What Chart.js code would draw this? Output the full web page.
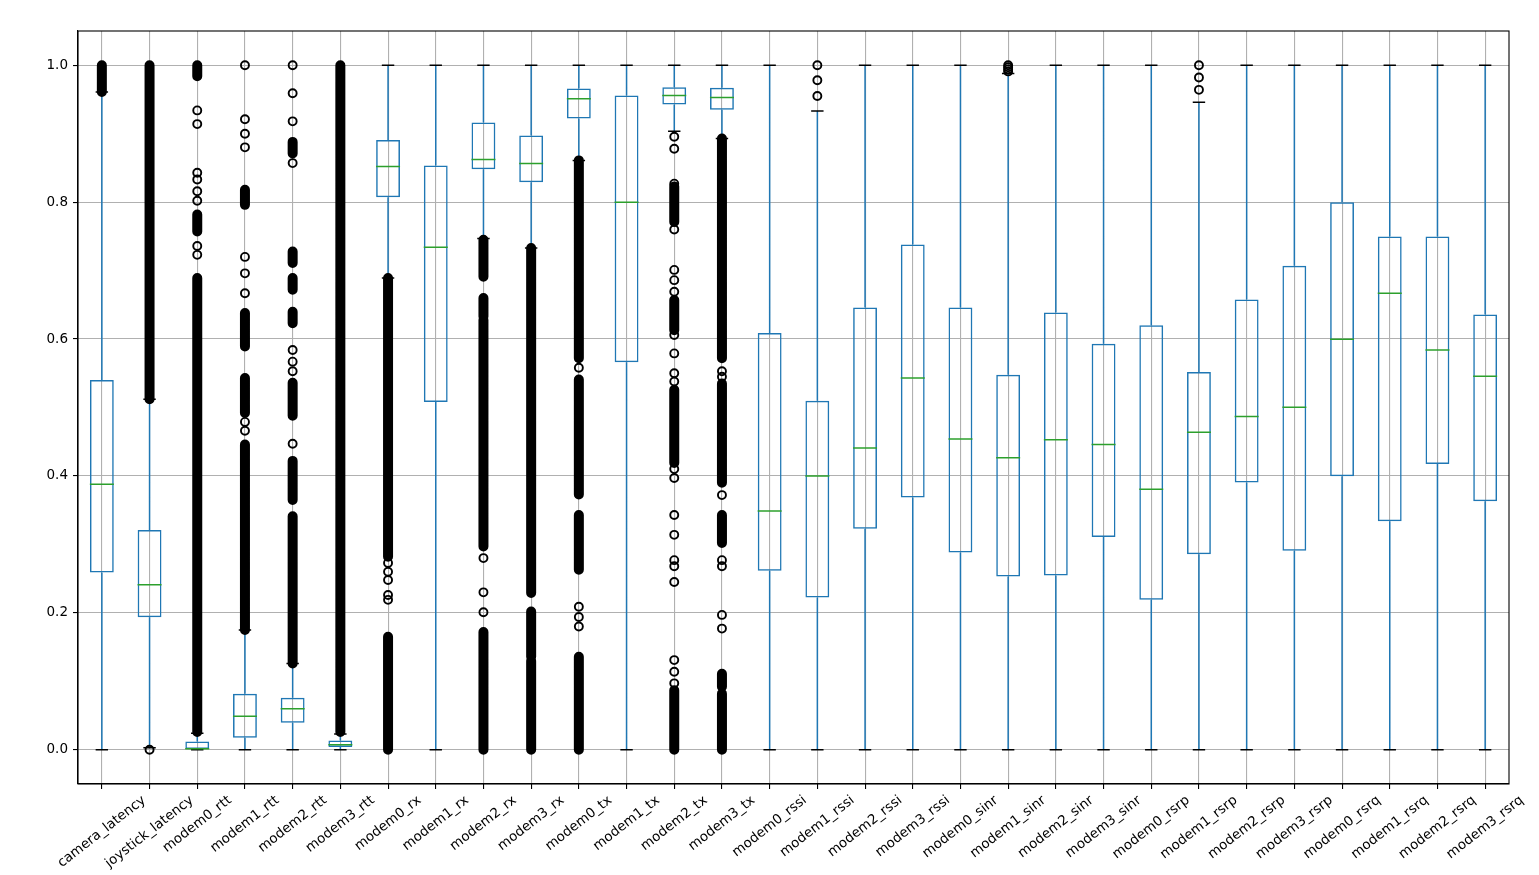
<!DOCTYPE html>
<html>
<head>
<meta charset="utf-8">
<script src="https://cdn.jsdelivr.net/npm/chart.js@4/dist/chart.umd.min.js"></script>
<style>
  html, body { margin: 0; padding: 0; background: #fff; }
  #wrap { width: 1539px; height: 875px; }
</style>
</head>
<body>
<div id="wrap"><canvas id="myChart" width="1539" height="875"></canvas></div>
<script>
// columnas del boxplot
const categories = ["camera_latency", "joystick_latency", "modem0_rtt", "modem1_rtt", "modem2_rtt", "modem3_rtt",
  "modem0_rx", "modem1_rx", "modem2_rx", "modem3_rx", "modem0_tx", "modem1_tx", "modem2_tx", "modem3_tx",
  "modem0_rssi", "modem1_rssi", "modem2_rssi", "modem3_rssi", "modem0_sinr", "modem1_sinr", "modem2_sinr", "modem3_sinr",
  "modem0_rsrp", "modem1_rsrp", "modem2_rsrp", "modem3_rsrp", "modem0_rsrq", "modem1_rsrq", "modem2_rsrq", "modem3_rsrq"];

// cuartiles, medianas y bigotes
const q1 = [0.259, 0.1935, 0.001, 0.0176, 0.0396, 0.004, 0.807, 0.508, 0.848, 0.829, 0.922, 0.566, 0.9426, 0.935,
  0.2615, 0.2225, 0.323, 0.3685, 0.288, 0.253, 0.2544, 0.311, 0.219, 0.2856, 0.3905, 0.2906, 0.3997, 0.3338, 0.4174, 0.3629];
const medians = [0.388, 0.241, 0.0015, 0.0489, 0.060, 0.0073, 0.852, 0.734, 0.8624, 0.8566, 0.951, 0.7997, 0.9558, 0.953,
  0.3487, 0.400, 0.441, 0.543, 0.454, 0.4266, 0.453, 0.4458, 0.3806, 0.464, 0.487, 0.5003, 0.5996, 0.6669, 0.584, 0.5457];
const q3 = [0.540, 0.321, 0.0122, 0.082, 0.076, 0.0137, 0.8906, 0.8537, 0.9164, 0.8974, 0.966, 0.9558, 0.968, 0.967,
  0.609, 0.510, 0.646, 0.738, 0.646, 0.548, 0.6386, 0.593, 0.620, 0.552, 0.6577, 0.707, 0.800, 0.7498, 0.7498, 0.6357];
const whiskerLow = [0, 0.003, 0, 0, 0, 0, 0.689, 0, 0.747, 0.733, 0.861, 0, 0.9037, 0.893,
  0, 0, 0, 0, 0, 0, 0, 0, 0, 0, 0, 0, 0, 0, 0, 0];
const whiskerHigh = [0.961, 0.512, 0.024, 0.175, 0.126, 0.023, 1, 1, 1, 1, 1, 1, 1, 1,
  1, 0.933, 1, 1, 1, 0.988, 1, 1, 1, 0.946, 1, 1, 1, 1, 1, 1];

// zonas donde los outliers se amontonan (lo, hi)
const outlierBands = [
  [[0.961, 1.0]],
  [[0.512, 1.0]],
  [[0.026, 0.689], [0.757, 0.782], [0.984, 1.0]],
  [[0.175, 0.446], [0.492, 0.543], [0.589, 0.638], [0.796, 0.818]],
  [[0.126, 0.341], [0.365, 0.422], [0.488, 0.536], [0.623, 0.640], [0.672, 0.689], [0.711, 0.728], [0.871, 0.888]],
  [[0.026, 1.0]],
  [[0, 0.165], [0.282, 0.689]],
  [],
  [[0, 0.172], [0.297, 0.628], [0.633, 0.660], [0.691, 0.745]],
  [[0, 0.13], [0.136, 0.202], [0.229, 0.733]],
  [[0, 0.136], [0.263, 0.343], [0.373, 0.541], [0.572, 0.861]],
  [],
  [[0, 0.087], [0.419, 0.526], [0.613, 0.657], [0.771, 0.823]],
  [[0, 0.082], [0.092, 0.111], [0.302, 0.343], [0.39, 0.535], [0.572, 0.893]],
  [], [], [], [], [], [], [], [], [], [], [], [], [], [], [], []
];
// outliers sueltos
const outlierPoints = [
  [],
  [0.0],
  [0.723, 0.736, 0.802, 0.816, 0.833, 0.843, 0.914, 0.934],
  [0.466, 0.479, 0.667, 0.696, 0.720, 0.880, 0.900, 0.921, 1.0],
  [0.447, 0.553, 0.567, 0.584, 0.857, 0.918, 0.959, 1.0],
  [],
  [0.219, 0.226, 0.248, 0.26, 0.273],
  [],
  [0.201, 0.230, 0.280],
  [],
  [0.180, 0.194, 0.209, 0.558],
  [],
  [0.097, 0.114, 0.131, 0.245, 0.268, 0.277, 0.314, 0.343, 0.397, 0.410, 0.538, 0.550, 0.579, 0.606,
    0.669, 0.686, 0.701, 0.760, 0.827, 0.878, 0.8955],
  [0.177, 0.197, 0.268, 0.277, 0.372, 0.545, 0.553],
  [], [0.955, 0.978, 1.0], [], [], [], [0.991, 0.994, 0.997, 1.0], [], [],
  [], [0.964, 0.982, 1.0], [], [], [], [], [], []
];
const yTicks = [0.0, 0.2, 0.4, 0.6, 0.8, 1.0];

const FONT = '"DejaVu Sans", sans-serif';
const AZUL = "#1f77b4";
const LW = 1.5;

// armamos los datos para cada capa
const boxData = categories.map((c, i) => [q1[i], q3[i]]);
const whiskerData = [];
const capData = [];
categories.forEach((c, i) => {
  whiskerData.push({x: c, y: q3[i]}, {x: c, y: whiskerHigh[i]}, {x: c, y: null});
  whiskerData.push({x: c, y: q1[i]}, {x: c, y: whiskerLow[i]}, {x: c, y: null});
  capData.push({x: c, y: whiskerLow[i]}, {x: c, y: whiskerHigh[i]});
});
const bandData = [];
outlierBands.forEach((bands, i) => {
  bands.forEach((b) => {
    bandData.push({x: categories[i], y: b[0]}, {x: categories[i], y: b[1]}, {x: categories[i], y: null});
  });
});
const pointData = [];
outlierPoints.forEach((pts, i) => {
  pts.forEach((v) => pointData.push({x: categories[i], y: v}));
});

// marco completo alrededor del area
const marco = {
  id: "marco",
  afterDraw(chart) {
    const {ctx, chartArea: a} = chart;
    ctx.save();
    ctx.strokeStyle = "#000";
    ctx.lineWidth = 1.1;
    ctx.strokeRect(a.left, a.top, a.right - a.left, a.bottom - a.top);
    ctx.restore();
  }
};

// etiquetas del eje x rotadas y centradas en la marca
const etiquetas = {
  id: "etiquetas",
  afterDraw(chart) {
    const ctx = chart.ctx;
    const xs = chart.scales.x;
    const size = 13.5;
    const ang = 38 * Math.PI / 180;
    ctx.save();
    ctx.font = size + "px " + FONT;
    ctx.fillStyle = "#000";
    ctx.textAlign = "center";
    ctx.textBaseline = "middle";
    categories.forEach((lab, i) => {
      const x = xs.getPixelForValue(i);
      const w = ctx.measureText(lab).width;
      const h = size * 1.17;
      const bh = w * Math.sin(ang) + h * Math.cos(ang);
      const cy = chart.chartArea.bottom + 5 + 3.5 + bh / 2;
      ctx.save();
      ctx.translate(x, cy);
      ctx.rotate(-ang);
      ctx.fillText(lab, 0, 0);
      ctx.restore();
    });
    ctx.restore();
  }
};

const myChart = document.getElementById("myChart");
const chart = new Chart(myChart, {
  type: "bar",
  data: {
    labels: categories,
    datasets: [
      {
        type: "line",
        label: "outliers",
        data: pointData,
        showLine: false,
        pointStyle: "circle",
        pointRadius: 4,
        pointBorderWidth: 1.9,
        pointBorderColor: "#000",
        pointBackgroundColor: "rgba(0,0,0,0)"
      },
      {
        type: "line",
        label: "outlier bands",
        data: bandData,
        borderColor: "#000",
        borderWidth: 10,
        borderCapStyle: "round",
        pointRadius: 0,
        spanGaps: false
      },
      {
        type: "line",
        label: "medianas",
        data: medians,
        showLine: false,
        pointStyle: "line",
        pointRadius: 12,
        pointBorderWidth: LW,
        pointBorderColor: "#2ca02c"
      },
      {
        type: "line",
        label: "caps",
        data: capData,
        showLine: false,
        pointStyle: "line",
        pointRadius: 6.2,
        pointBorderWidth: LW,
        pointBorderColor: "#000"
      },
      {
        type: "line",
        label: "bigotes",
        data: whiskerData,
        borderColor: AZUL,
        borderWidth: LW,
        pointRadius: 0,
        spanGaps: false
      },
      {
        type: "bar",
        label: "cajas",
        data: boxData,
        backgroundColor: "rgba(0,0,0,0)",
        borderColor: AZUL,
        borderWidth: LW,
        borderSkipped: false,
        barPercentage: 0.5,
        categoryPercentage: 1,
        grouped: false
      }
    ]
  },
  options: {
    responsive: false,
    animation: false,
    events: [],
    layout: { padding: { top: 31, right: 30, left: 0, bottom: 0 } },
    plugins: { legend: { display: false }, tooltip: { enabled: false } },
    scales: {
      x: {
        type: "category",
        offset: true,
        grid: { offset: false, color: "#b0b0b0", lineWidth: 1.1, tickColor: "#000", tickLength: 5, tickWidth: 1.1 },
        border: { color: "#000", width: 1.1 },
        ticks: { display: false },
        afterFit(scale) { scale.height = 91; }
      },
      y: {
        min: -0.05,
        max: 1.05,
        afterBuildTicks(scale) { scale.ticks = yTicks.map((v) => ({value: v})); },
        grid: { color: "#b0b0b0", lineWidth: 1.1, tickColor: "#000", tickLength: 5, tickWidth: 1.1 },
        border: { color: "#000", width: 1.1 },
        ticks: {
          padding: 5,
          color: "#000",
          font: { family: FONT, size: 13.5 },
          callback: (v) => Number(v).toFixed(1)
        },
        afterFit(scale) { scale.width = 78; }
      }
    }
  },
  plugins: [marco, etiquetas]
});
</script>
</body>
</html>
